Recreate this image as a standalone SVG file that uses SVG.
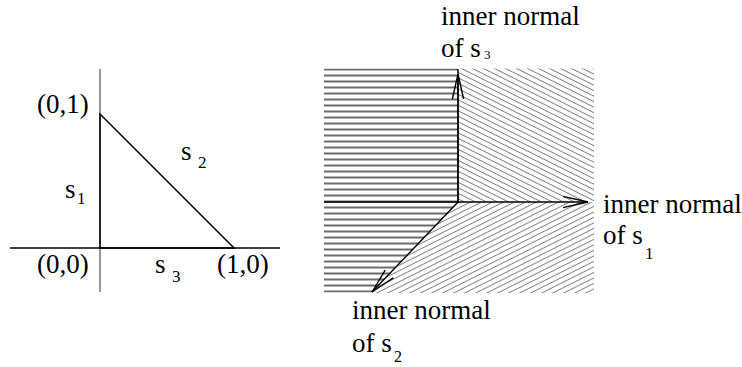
<svg xmlns="http://www.w3.org/2000/svg" width="742" height="367" viewBox="0 0 742 367">
<style>
.lbl { font-family: "Liberation Serif", "Times New Roman", Times, serif; fill: #000; }
.t { font-size: 27px; }
.sub { font-size: 17px; }
.axis { stroke: #777; stroke-width: 1.5; fill: none; }
.edge { stroke: #000; stroke-width: 1.5; fill: none; }
.arrow { stroke: #000; stroke-width: 1.4; fill: none; }
</style>
<defs>
<pattern id="hz" patternUnits="userSpaceOnUse" x="0" y="66.5" width="10" height="6">
<line x1="0" y1="3" x2="10" y2="3" stroke="#2a2a2a" stroke-width="1.4"/>
</pattern>
<pattern id="bs" patternUnits="userSpaceOnUse" width="10" height="4.92" patternTransform="rotate(26.565)">
<line x1="0" y1="2.46" x2="10" y2="2.46" stroke="#666" stroke-width="0.8"/>
</pattern>
<pattern id="fs" patternUnits="userSpaceOnUse" width="10" height="4.92" patternTransform="rotate(-26.565)">
<line x1="0" y1="2.46" x2="10" y2="2.46" stroke="#666" stroke-width="0.8"/>
</pattern>
<marker id="arr" markerUnits="userSpaceOnUse" viewBox="0 0 30 14" markerWidth="30" markerHeight="14" refX="25" refY="7" orient="auto" overflow="visible">
<path d="M0,1.4 L25,7 L0,12.6" fill="none" stroke="#000" stroke-width="1.4"/>
</marker>
</defs>

<g id="triangle">
<line class="axis" x1="100" y1="69" x2="100" y2="292"/>
<line class="edge" x1="10" y1="248" x2="280" y2="248" stroke="#111"/>
<polygon class="edge" points="100,114 234,248 100,248"/>
</g>

<g id="triangle-labels" class="lbl">
<text class="t" x="37" y="113">(0,1)</text>
<text class="t" x="65" y="198">s</text><text class="sub" x="77" y="204">1</text>
<text class="t" x="181" y="160">s</text><text class="sub" x="198" y="168">2</text>
<text class="t" x="37" y="273">(0,0)</text>
<text class="t" x="155" y="273">s</text><text class="sub" x="172" y="282">3</text>
<text class="t" x="217" y="273">(1,0)</text>
</g>

<g id="region-horizontal">
<polygon points="324,68.5 458,68.5 458,202 372,292.5 324,292.5" fill="url(#hz)"/>
</g>
<g id="region-upper">
<polygon points="458,68.5 594,68.5 594,202 458,202" fill="url(#bs)"/>
</g>
<g id="region-lower">
<polygon points="458,202 594,202 594,293 372,293" fill="url(#fs)"/>
</g>

<g id="connectors">
<line class="arrow" x1="324" y1="202" x2="458" y2="202"/>
<line class="arrow" x1="458" y1="69" x2="458" y2="202"/>
<line class="arrow" x1="458" y1="202" x2="458" y2="74" marker-end="url(#arr)"/>
<line class="arrow" x1="458" y1="202" x2="588" y2="202" marker-end="url(#arr)"/>
<line class="arrow" x1="458" y1="202" x2="372" y2="292" marker-end="url(#arr)"/>
</g>

<g id="label-s3" class="lbl">
<text class="t" x="441" y="25">inner normal</text>
<text class="t" x="441" y="57">of s</text><text font-size="13" x="484" y="59">3</text>
</g>
<g id="label-s1" class="lbl">
<text class="t" x="603" y="213">inner normal</text>
<text class="t" x="603" y="244">of s</text><text class="sub" x="645" y="259">1</text>
</g>
<g id="label-s2" class="lbl">
<text class="t" x="352" y="319">inner normal</text>
<text class="t" x="352" y="352">of s</text><text font-size="16" x="394" y="362">2</text>
</g>
</svg>
